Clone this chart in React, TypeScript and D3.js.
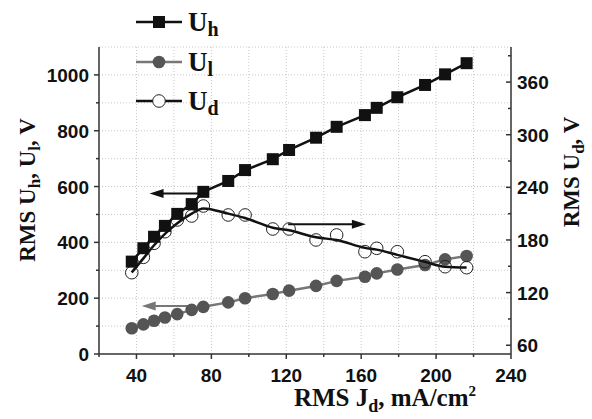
import React from "react";
import * as d3 from "d3";

const jd = [37.5, 43.7, 49.4, 55.2, 61.8, 69.5, 75.7, 89, 98, 112.8, 121.5, 135.9, 146.9, 162, 168.3, 179.3, 194.1, 204.8, 216.3];
const uh = [331, 379, 420, 459, 502, 537, 581, 620, 659, 698, 731, 775, 814, 856, 882, 920, 964, 1002, 1042];
const ul = [92, 106, 119, 131, 143, 158, 169, 185, 200, 215, 227, 244, 262, 277, 289, 303, 319, 339, 351];
const ud = [142.7, 160.2, 176.2, 189.4, 202.8, 207.3, 218.7, 208.5, 208.5, 192.5, 192.5, 180, 185.7, 166.6, 170.5, 166.6, 155.2, 149.5, 148.4];
const udFit = [143, 159, 174, 187, 199, 210, 216, 210, 205, 194, 191, 183, 180, 171, 169, 163, 155, 149.5, 148.5];

const xTicks = [40, 80, 120, 160, 200, 240];
const xMinor = [20, 60, 100, 140, 180, 220];
const xGrid = [40, 60, 80, 100, 120, 140, 160, 180, 200, 220];
const yLeftTicks = [0, 200, 400, 600, 800, 1000];
const yLeftMinor = [100, 300, 500, 700, 900];
const yGrid = [100, 200, 300, 400, 500, 600, 700, 800, 900, 1000, 1100];
const yRightTicks = [60, 120, 180, 240, 300, 360];
const yRightMinor = [90, 150, 210, 270, 330, 390];

const L = 99, R = 511, T = 47, B = 354;

export default function App() {
  const x = d3.scaleLinear().domain([20, 240]).range([L, R]);
  const yl = d3.scaleLinear().domain([0, 1100]).range([B, T]);
  const yr = d3.scaleLinear().domain([50, 400]).range([B, T]);

  const lineH = d3.line<number>().x((d, i) => x(jd[i])).y((d) => yl(d));
  const lineR = d3.line<number>().x((d, i) => x(jd[i])).y((d) => yr(d)).curve(d3.curveMonotoneX);

  const tickFont = { fontFamily: "Liberation Sans, Arial, sans-serif", fontWeight: 700, fontSize: 19 } as const;
  const titleFont = { fontFamily: "Liberation Serif, Times New Roman, serif", fontWeight: 700, fontSize: 23 } as const;
  const legFont = { fontFamily: "Liberation Serif, Times New Roman, serif", fontWeight: 700, fontSize: 27 } as const;
  const grey = "#777";
  const greyDark = "#555";

  const arrow = (x1: number, x2: number, y: number, color: string) => {
    const dir = x2 > x1 ? 1 : -1;
    return (
      <g>
        <line x1={x1} x2={x2 - dir * 10} y1={y} y2={y} stroke={color} strokeWidth={2} />
        <path d={`M${x2},${y} L${x2 - dir * 14},${y - 4.5} L${x2 - dir * 14},${y + 4.5} Z`} fill={color} />
      </g>
    );
  };

  return (
    <svg width={592} height={419} style={{ display: "block", position: "absolute", left: 0, top: 0, background: "#fff" }}>
      {/* grid */}
      <g stroke="#c8c8c8" strokeWidth={1} strokeDasharray="1,2">
        {xGrid.map((v) => (
          <line key={"gx" + v} x1={x(v)} x2={x(v)} y1={T} y2={B} />
        ))}
        {yGrid.map((v) => (
          <line key={"gy" + v} x1={L} x2={R} y1={yl(v)} y2={yl(v)} />
        ))}
      </g>

      {/* axes */}
      <g stroke="#333" strokeWidth={1.5} fill="none">
        <line x1={L} x2={L} y1={T} y2={B} />
        <line x1={R} x2={R} y1={T} y2={B} />
        <line x1={L} x2={R} y1={B} y2={B} />
        {xTicks.map((v) => (
          <line key={"xt" + v} x1={x(v)} x2={x(v)} y1={B} y2={B + 5} />
        ))}
        {xMinor.map((v) => (
          <line key={"xm" + v} x1={x(v)} x2={x(v)} y1={B} y2={B + 3} />
        ))}
        {yLeftTicks.map((v) => (
          <line key={"ylt" + v} x1={L - 5} x2={L} y1={yl(v)} y2={yl(v)} />
        ))}
        {yLeftMinor.map((v) => (
          <line key={"ylm" + v} x1={L - 3} x2={L} y1={yl(v)} y2={yl(v)} />
        ))}
        {yRightTicks.map((v) => (
          <line key={"yrt" + v} x1={R - 5} x2={R} y1={yr(v)} y2={yr(v)} />
        ))}
        {yRightMinor.map((v) => (
          <line key={"yrm" + v} x1={R - 3} x2={R} y1={yr(v)} y2={yr(v)} />
        ))}
      </g>

      {/* tick labels */}
      <g style={tickFont} fill="#111">
        {xTicks.map((v) => (
          <text key={"xl" + v} x={x(v)} y={B + 28} textAnchor="middle">{v}</text>
        ))}
        {yLeftTicks.map((v) => (
          <text key={"yll" + v} x={L - 10} y={yl(v) + 7} textAnchor="end">{v}</text>
        ))}
        {yRightTicks.map((v) => (
          <text key={"yrl" + v} x={R + 6} y={yr(v) + 7} textAnchor="start">{v}</text>
        ))}
      </g>

      {/* titles */}
      <text style={{ ...titleFont, fontSize: 25 }} x={385} y={406} textAnchor="middle" fill="#111">
        RMS J<tspan fontSize={18} dy={6}>d</tspan><tspan dy={-6}>, mA/cm</tspan><tspan fontSize={15} dy={-10}>2</tspan>
      </text>
      <text style={titleFont} transform={`translate(35,190) rotate(-90)`} textAnchor="middle" fill="#111">
        RMS U<tspan fontSize={17} dy={5}>h</tspan><tspan dy={-5}>, U</tspan><tspan fontSize={17} dy={5}>l</tspan><tspan dy={-5}>, V</tspan>
      </text>
      <text style={titleFont} transform={`translate(579,172) rotate(-90)`} textAnchor="middle" fill="#111">
        RMS U<tspan fontSize={17} dy={5}>d</tspan><tspan dy={-5}>, V</tspan>
      </text>

      {/* arrows */}
      {arrow(x(74), x(47), yl(575), "#111")}
      {arrow(x(68.5), x(42.8), yl(172), grey)}
      {arrow(x(121), x(162.5), yr(198), "#111")}

      {/* U_l */}
      <path d={lineH(ul) || ""} fill="none" stroke={grey} strokeWidth={2.5} />
      {ul.map((v, i) => (
        <circle key={"ul" + i} cx={x(jd[i])} cy={yl(v)} r={6.3} fill={greyDark} />
      ))}

      {/* U_d */}
      <path d={lineR(udFit) || ""} fill="none" stroke="#111" strokeWidth={2.5} />
      {ud.map((v, i) => (
        <circle key={"ud" + i} cx={x(jd[i])} cy={yr(v)} r={6.3} fill="none" stroke="#222" strokeWidth={1} />
      ))}

      {/* U_h */}
      <path d={lineH(uh) || ""} fill="none" stroke="#111" strokeWidth={2.5} />
      {uh.map((v, i) => (
        <rect key={"uh" + i} x={x(jd[i]) - 6} y={yl(v) - 6} width={12} height={12} fill="#111" />
      ))}

      {/* legend */}
      <g>
        <line x1={136} x2={182} y1={22} y2={22} stroke="#111" strokeWidth={2.5} />
        <rect x={153} y={16} width={12} height={12} fill="#111" />
        <text style={legFont} x={188} y={31} fill="#111">U<tspan fontSize={20} dy={5}>h</tspan></text>

        <line x1={136} x2={182} y1={62} y2={62} stroke={grey} strokeWidth={2.5} />
        <circle cx={159} cy={62} r={6.3} fill={greyDark} />
        <text style={legFont} x={188} y={71} fill="#111">U<tspan fontSize={20} dy={5}>l</tspan></text>

        <line x1={136} x2={182} y1={101} y2={101} stroke="#111" strokeWidth={2.5} />
        <circle cx={159} cy={101} r={6.3} fill="#fff" stroke="#222" strokeWidth={1} />
        <text style={legFont} x={188} y={110} fill="#111">U<tspan fontSize={20} dy={5}>d</tspan></text>
      </g>
    </svg>
  );
}
